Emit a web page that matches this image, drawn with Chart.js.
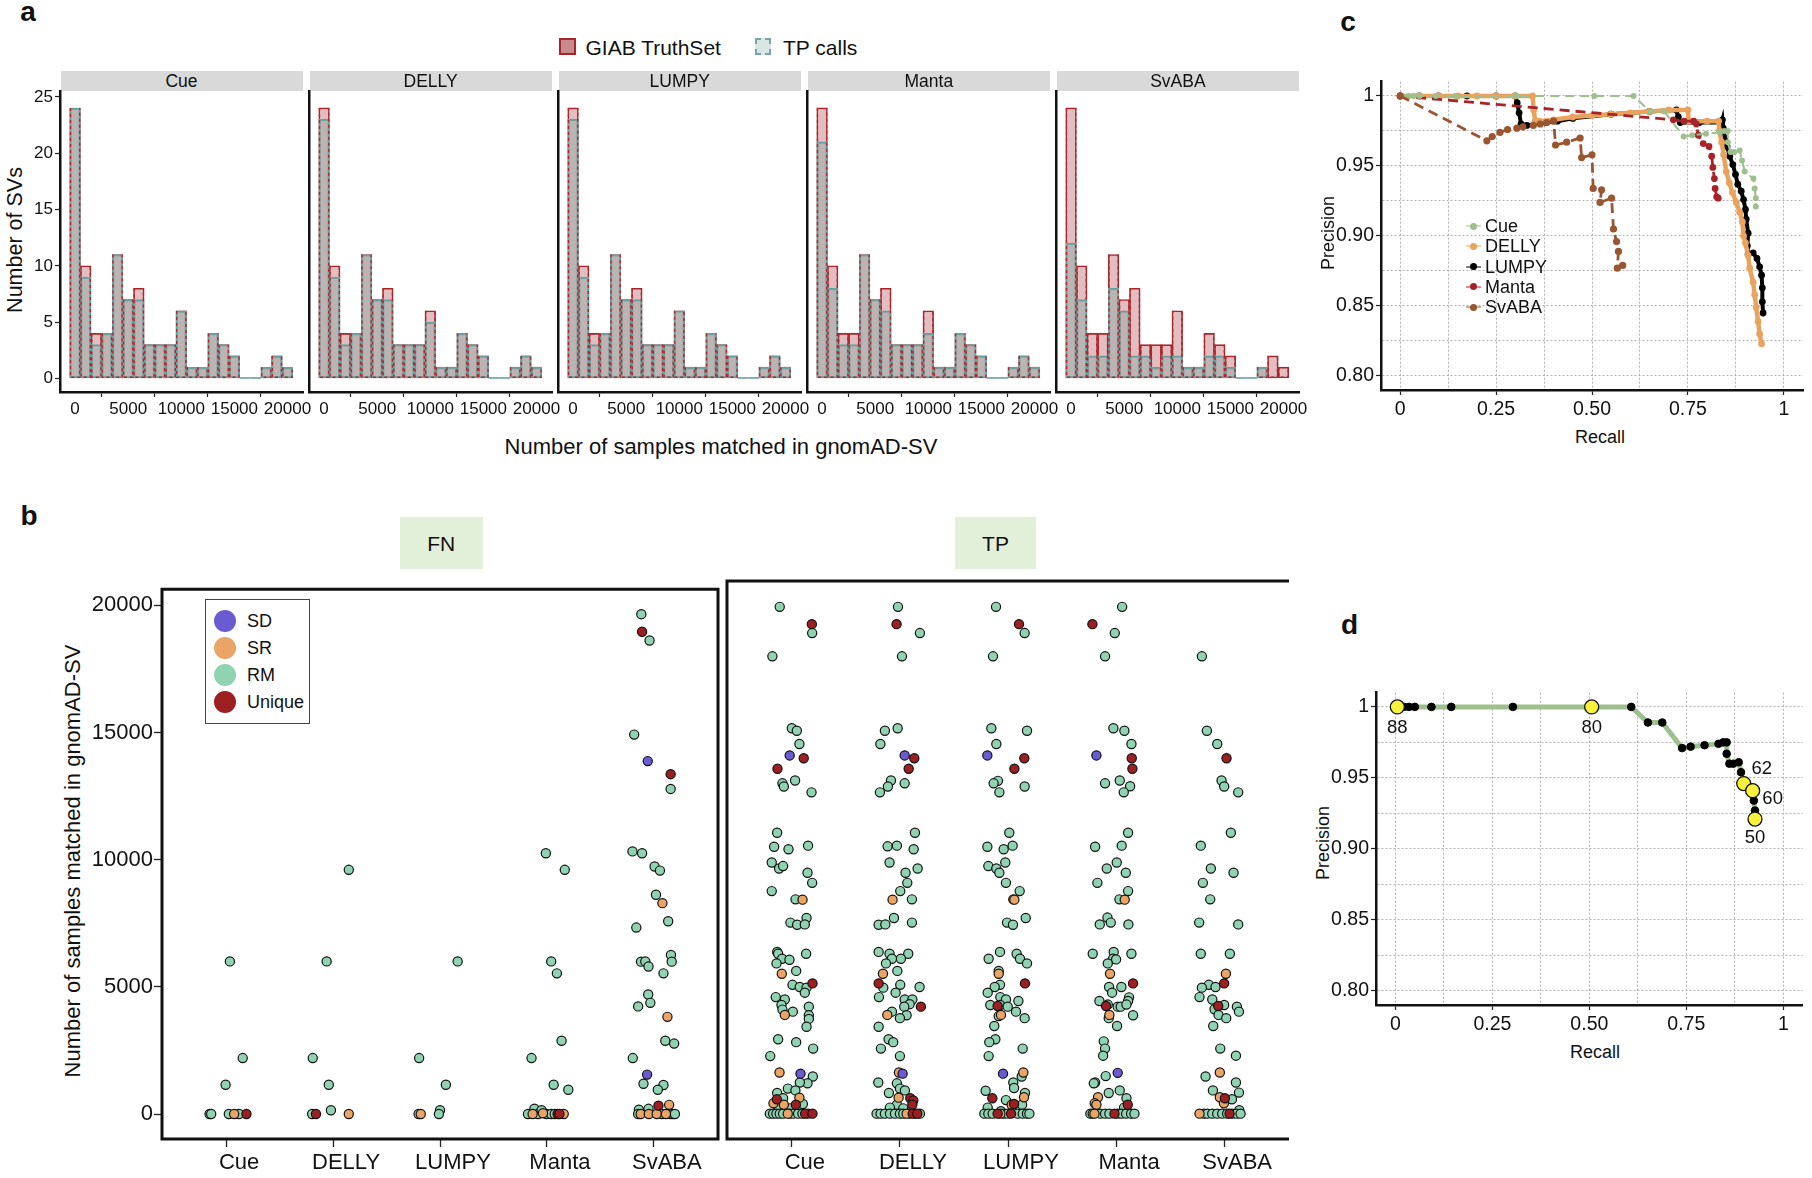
<!DOCTYPE html>
<html><head><meta charset="utf-8">
<script src="https://cdn.jsdelivr.net/npm/chart.js@4.4.1/dist/chart.umd.min.js"></script>
<style>
html,body{margin:0;padding:0;background:#fff}
body{position:relative;width:1812px;height:1178px;overflow:hidden;font-family:'Liberation Sans',Arial,Helvetica,sans-serif;color:#111}
canvas{position:absolute}
.t{position:absolute;white-space:nowrap;line-height:1;transform:translate(-50%,-50%)}
.box{position:absolute;box-sizing:border-box}
</style></head><body>
<script>
// ================= DATA =================
// Panel a: histograms (bin centres, counts)
const facetNames = ['Cue','DELLY','LUMPY','Manta','SvABA'];
const binCenters = [0,1000,2000,3000,4000,5000,6000,7000,8000,9000,10000,11000,12000,13000,14000,15000,16000,17000,18000,19000,20000];
const giabCounts = [24,10,4,4,11,7,8,3,3,3,6,1,1,4,3,2,0,0,1,2,1];
const tpCue   = [24,9,3,4,11,7,7,3,3,3,6,1,1,4,3,2,0,0,1,2,1];
const tpDelly = [23,9,3,4,11,7,7,3,3,3,5,1,1,4,3,2,0,0,1,2,1];
const tpLumpy = [23,9,3,4,11,7,7,3,3,3,6,1,1,4,3,2,0,0,1,2,1];
const tpManta = [21,8,3,3,11,7,6,3,3,3,4,1,1,4,3,2,0,0,1,2,1];
const tpSvaba = [12,7,2,2,8,6,2,2,1,2,2,1,1,2,2,1,0,0,1,0,0];
const histXTicks = [0,5000,10000,15000,20000];
const histYTicks = [0,5,10,15,20,25];

// Panel b: [jitter, samples matched, class]
const toolNames = ['Cue','DELLY','LUMPY','Manta','SvABA'];
const classNames = ['SD','SR','RM','Unique'];
const fnCue = [[0.035,6000,'RM'],[0.155,2200,'RM'],[-0.005,1150,'RM'],[-0.155,0,'RM'],[-0.14,0,'RM'],[0.025,0,'RM'],[0.075,0,'SR'],[0.12,0,'RM'],[0.19,0,'Unique']];
const fnDelly = [[-0.06,6000,'RM'],[0.147,9600,'RM'],[-0.19,2200,'RM'],[-0.04,1150,'RM'],[-0.02,150,'RM'],[-0.196,0,'RM'],[-0.16,0,'Unique'],[0.147,0,'SR']];
const fnLumpy = [[0.165,6000,'RM'],[-0.195,2200,'RM'],[0.055,1150,'RM'],[0.0,150,'RM'],[-0.01,0,'RM'],[-0.2,0,'RM'],[-0.18,0,'SR']];
const fnManta = [[-0.01,10250,'RM'],[0.167,9600,'RM'],[0.04,6000,'RM'],[0.093,5530,'RM'],[0.137,2880,'RM'],[-0.144,2200,'RM'],[0.063,1150,'RM'],[0.2,955,'RM'],[-0.177,0,'RM'],[-0.134,0,'SR'],[-0.117,210,'RM'],[-0.083,0,'RM'],[-0.05,150,'RM'],[-0.037,30,'SR'],[-0.003,0,'RM'],[0.04,0,'RM'],[0.073,0,'RM'],[0.1,0,'Unique'],[0.117,0,'Unique'],[0.157,0,'SR']];
const fnSvaba = [[-0.117,19650,'RM'],[-0.11,18960,'Unique'],[-0.04,18615,'RM'],[-0.184,14915,'RM'],[-0.057,13875,'SD'],[0.157,13360,'Unique'],[0.157,12780,'RM'],[-0.2,10325,'RM'],[-0.11,10250,'RM'],[0.007,9730,'RM'],[0.057,9570,'RM'],[0.02,8620,'RM'],[0.08,8290,'SR'],[0.134,7580,'RM'],[-0.164,7330,'RM'],[0.16,6250,'RM'],[0.167,5990,'RM'],[-0.12,5990,'RM'],[-0.08,6000,'RM'],[-0.05,5800,'RM'],[0.09,5530,'RM'],[-0.053,4700,'RM'],[-0.033,4370,'RM'],[-0.147,4230,'RM'],[0.127,3820,'SR'],[0.107,2880,'RM'],[0.19,2770,'RM'],[-0.197,2200,'RM'],[-0.063,1550,'SD'],[-0.097,1190,'RM'],[0.09,1140,'RM'],[0.037,955,'RM'],[0.043,330,'Unique'],[0.143,360,'SR'],[-0.05,205,'RM'],[-0.14,170,'RM'],[-0.147,0,'RM'],[-0.123,0,'SR'],[-0.047,0,'SR'],[0.027,0,'SR'],[0.077,0,'RM'],[0.113,0,'SR'],[0.153,0,'RM'],[0.177,0,'RM'],[0.197,0,'RM']];
const tpCuePts = [[-0.112,19630,'RM'],[0.185,18960,'Unique'],[0.188,18615,'RM'],[-0.18,17715,'RM'],[0.0,14930,'RM'],[0.046,14830,'RM'],[0.07,14320,'RM'],[-0.02,13875,'SD'],[0.11,13765,'Unique'],[-0.133,13360,'Unique'],[-0.087,12795,'RM'],[-0.074,12670,'RM'],[0.03,12905,'RM'],[0.182,12445,'RM'],[-0.136,10880,'RM'],[-0.164,10340,'RM'],[-0.031,10240,'RM'],[0.15,10380,'RM'],[-0.186,9730,'RM'],[-0.118,9495,'RM'],[-0.081,9590,'RM'],[0.145,9330,'RM'],[0.188,8940,'RM'],[-0.186,8620,'RM'],[0.034,8300,'RM'],[0.099,8290,'SR'],[0.136,7580,'RM'],[-0.013,7400,'RM'],[0.049,7315,'RM'],[0.12,7330,'RM'],[-0.136,6265,'RM'],[-0.127,6195,'RM'],[0.132,6195,'RM'],[-0.09,6000,'RM'],[-0.142,5820,'RM'],[-0.022,5960,'RM'],[-0.093,5420,'SR'],[0.04,5530,'RM'],[0.006,4990,'RM'],[0.073,4905,'RM'],[0.136,4880,'RM'],[0.191,5045,'Unique'],[0.12,4685,'RM'],[-0.149,4515,'RM'],[-0.065,4420,'RM'],[-0.096,4210,'RM'],[0.157,4145,'RM'],[-0.087,4030,'RM'],[0.009,3950,'RM'],[-0.065,3825,'SR'],[0.157,3810,'RM'],[0.157,3670,'RM'],[0.136,3365,'RM'],[-0.127,2880,'RM'],[0.04,2770,'RM'],[0.197,2520,'RM'],[-0.2,2230,'RM'],[-0.114,1595,'SR'],[0.08,1550,'SD'],[0.194,1440,'RM'],[0.145,1175,'RM'],[0.074,1205,'RM'],[-0.037,970,'RM'],[0.033,900,'RM'],[-0.136,800,'RM'],[0.07,620,'SR'],[-0.081,595,'RM'],[-0.139,555,'Unique'],[-0.17,400,'SR'],[-0.074,345,'SR'],[0.037,345,'Unique'],[0.102,375,'RM'],[-0.124,235,'RM'],[-0.02,205,'RM'],[-0.204,0,'RM'],[-0.173,0,'RM'],[-0.143,0,'RM'],[-0.112,0,'RM'],[-0.081,0,'RM'],[-0.038,0,'SR'],[-0.019,0,'RM'],[0.012,0,'RM'],[0.058,0,'RM'],[0.098,0,'RM'],[0.123,0,'Unique'],[0.151,0,'RM'],[0.191,0,'Unique']];
const tpDellyPts = [[-0.018,19630,'RM'],[-0.031,18960,'Unique'],[0.185,18615,'RM'],[0.019,17715,'RM'],[-0.139,14830,'RM'],[-0.021,14930,'RM'],[-0.181,14320,'RM'],[0.044,13875,'SD'],[0.133,13765,'Unique'],[0.081,13360,'Unique'],[-0.083,12905,'RM'],[0.044,12795,'RM'],[-0.111,12670,'RM'],[-0.185,12445,'RM'],[0.139,10880,'RM'],[-0.114,10355,'RM'],[-0.028,10380,'RM'],[0.127,10240,'RM'],[-0.096,9730,'RM'],[0.164,9495,'RM'],[0.052,9330,'RM'],[0.068,8940,'RM'],[0.003,8620,'RM'],[-0.068,8290,'SR'],[0.111,8300,'RM'],[-0.055,7580,'RM'],[0.111,7400,'RM'],[-0.197,7315,'RM'],[-0.135,7330,'RM'],[-0.197,6265,'RM'],[-0.096,6195,'RM'],[0.077,6195,'RM'],[0.009,6000,'RM'],[-0.074,6000,'RM'],[-0.129,5820,'RM'],[-0.157,5420,'SR'],[-0.024,5530,'RM'],[-0.197,5045,'Unique'],[-0.154,4880,'RM'],[0.003,4990,'RM'],[0.182,4905,'RM'],[-0.04,4685,'RM'],[-0.194,4515,'RM'],[0.044,4420,'RM'],[0.115,4420,'RM'],[0.09,4240,'RM'],[0.194,4145,'Unique'],[0.04,4145,'RM'],[-0.074,3950,'RM'],[-0.117,3825,'SR'],[0.062,3810,'RM'],[0.0,3700,'RM'],[-0.197,3365,'RM'],[-0.105,2880,'RM'],[-0.062,2770,'RM'],[-0.176,2520,'RM'],[0.0,2230,'RM'],[-0.009,1595,'SR'],[0.025,1550,'SD'],[-0.2,1205,'RM'],[-0.028,1175,'RM'],[0.0,970,'RM'],[0.046,900,'RM'],[-0.102,800,'RM'],[-0.012,620,'SR'],[0.096,595,'Unique'],[0.124,510,'Unique'],[-0.028,345,'RM'],[0.115,345,'Unique'],[-0.093,235,'RM'],[0.031,205,'RM'],[-0.216,0,'RM'],[-0.179,0,'RM'],[-0.139,0,'RM'],[-0.092,0,'RM'],[-0.046,0,'RM'],[0.0,0,'RM'],[0.031,0,'RM'],[0.062,0,'SR'],[0.087,0,'RM'],[0.118,0,'Unique'],[0.139,0,'RM'],[0.161,0,'Unique'],[0.185,0,'RM']];
const tpLumpyPts = [[-0.111,19630,'RM'],[0.102,18960,'Unique'],[0.154,18615,'RM'],[-0.139,17715,'RM'],[-0.154,14930,'RM'],[0.176,14830,'RM'],[-0.108,14320,'RM'],[-0.191,13875,'SD'],[0.151,13765,'Unique'],[0.059,13360,'Unique'],[-0.093,12890,'RM'],[-0.133,12795,'RM'],[-0.08,12445,'RM'],[0.154,12670,'RM'],[0.012,10880,'RM'],[-0.191,10340,'RM'],[-0.04,10240,'RM'],[0.043,10380,'RM'],[-0.025,9730,'RM'],[-0.182,9590,'RM'],[-0.108,9495,'RM'],[-0.08,9330,'RM'],[-0.019,8940,'RM'],[0.108,8620,'RM'],[0.049,8300,'RM'],[0.059,8290,'SR'],[0.164,7580,'RM'],[-0.009,7400,'RM'],[0.046,7315,'RM'],[-0.074,6265,'RM'],[-0.179,6000,'RM'],[0.08,6195,'RM'],[0.111,6000,'RM'],[0.176,5820,'RM'],[-0.086,5420,'SR'],[-0.086,5530,'RM'],[0.157,5045,'Unique'],[-0.074,4990,'RM'],[-0.123,4905,'RM'],[-0.188,4685,'RM'],[-0.071,4515,'RM'],[-0.019,4420,'RM'],[0.096,4365,'RM'],[-0.164,4210,'RM'],[-0.096,4170,'Unique'],[-0.074,4210,'RM'],[-0.003,4145,'RM'],[0.074,3950,'RM'],[-0.065,3825,'SR'],[-0.086,3780,'RM'],[0.154,3700,'RM'],[-0.127,3395,'RM'],[-0.117,2880,'RM'],[-0.173,2770,'RM'],[0.136,2520,'RM'],[-0.179,2230,'RM'],[-0.046,1550,'SD'],[0.142,1595,'SR'],[0.127,1440,'RM'],[0.049,1205,'RM'],[0.056,995,'RM'],[-0.207,885,'RM'],[0.157,800,'RM'],[0.148,635,'SR'],[-0.145,595,'Unique'],[-0.019,525,'RM'],[0.034,345,'SR'],[0.056,375,'Unique'],[0.13,345,'RM'],[-0.188,235,'RM'],[-0.065,95,'RM'],[-0.219,0,'RM'],[-0.182,0,'RM'],[-0.142,0,'RM'],[-0.096,0,'Unique'],[-0.071,0,'SR'],[-0.04,0,'RM'],[-0.003,0,'RM'],[0.028,0,'Unique'],[0.089,0,'RM'],[0.136,0,'RM'],[0.176,0,'RM'],[0.198,0,'RM']];
const tpMantaPts = [[0.056,19630,'RM'],[-0.219,18960,'Unique'],[-0.012,18615,'RM'],[-0.102,17715,'RM'],[-0.025,14930,'RM'],[0.077,14830,'RM'],[0.142,14320,'RM'],[-0.182,13875,'SD'],[0.145,13765,'Unique'],[0.151,13360,'Unique'],[-0.102,12795,'RM'],[0.034,12905,'RM'],[0.13,12680,'RM'],[0.071,12445,'RM'],[0.111,10880,'RM'],[-0.194,10340,'RM'],[0.052,10380,'RM'],[0.006,9730,'RM'],[-0.086,9495,'RM'],[0.09,9330,'RM'],[-0.173,8940,'RM'],[0.111,8620,'RM'],[0.031,8300,'RM'],[0.08,8290,'SR'],[-0.08,7595,'RM'],[-0.049,7400,'RM'],[-0.151,7330,'RM'],[0.114,7330,'RM'],[-0.216,6195,'RM'],[-0.022,6265,'RM'],[0.142,6195,'RM'],[-0.028,6000,'RM'],[0.0,5975,'RM'],[-0.077,5820,'RM'],[-0.056,5420,'SR'],[0.157,5045,'Unique'],[-0.065,4905,'RM'],[0.049,4905,'RM'],[-0.037,4685,'RM'],[0.12,4505,'RM'],[0.111,4365,'RM'],[-0.154,4365,'RM'],[-0.093,4170,'Unique'],[-0.077,4225,'RM'],[0.015,4145,'RM'],[0.043,4145,'RM'],[0.096,4225,'RM'],[-0.062,3825,'SR'],[-0.068,3700,'RM'],[0.157,3810,'RM'],[0.009,3395,'RM'],[-0.114,2800,'RM'],[-0.102,2520,'RM'],[-0.12,2245,'RM'],[0.015,1580,'SD'],[-0.096,1455,'RM'],[-0.194,1205,'RM'],[-0.206,1175,'RM'],[0.034,900,'RM'],[-0.068,800,'RM'],[-0.167,635,'SR'],[-0.198,400,'SR'],[-0.182,345,'SR'],[0.096,595,'RM'],[0.108,345,'Unique'],[0.074,235,'RM'],[-0.238,0,'RM'],[-0.216,0,'RM'],[-0.2,0,'SR'],[-0.145,0,'RM'],[-0.102,0,'RM'],[-0.062,0,'RM'],[-0.015,0,'Unique'],[0.015,0,'RM'],[0.052,0,'RM'],[0.093,0,'RM'],[0.139,0,'RM'],[0.17,0,'RM']];
const tpSvabaPts = [[-0.206,17715,'RM'],[-0.16,14830,'RM'],[-0.064,14320,'RM'],[0.022,13765,'Unique'],[-0.024,12905,'RM'],[0.0,12670,'RM'],[0.13,12445,'RM'],[0.062,10880,'RM'],[-0.216,10380,'RM'],[-0.123,9495,'RM'],[0.087,9330,'RM'],[-0.197,8940,'RM'],[-0.129,8300,'RM'],[-0.231,7400,'RM'],[0.13,7330,'RM'],[-0.216,6195,'RM'],[0.053,6195,'RM'],[0.016,5420,'SR'],[0.0,5045,'Unique'],[-0.142,4990,'RM'],[-0.206,4880,'RM'],[-0.08,4905,'RM'],[-0.228,4515,'RM'],[-0.11,4420,'RM'],[0.0,4210,'RM'],[-0.055,4170,'Unique'],[-0.089,4045,'RM'],[0.118,4145,'RM'],[0.137,3950,'RM'],[-0.052,3825,'RM'],[0.019,3700,'RM'],[-0.101,3395,'RM'],[-0.036,2520,'RM'],[0.109,2245,'RM'],[-0.04,1595,'SR'],[-0.172,1440,'RM'],[0.109,1205,'RM'],[-0.104,900,'RM'],[0.137,815,'RM'],[-0.04,635,'SR'],[0.007,595,'Unique'],[0.072,555,'RM'],[-0.002,400,'SR'],[0.14,135,'RM'],[-0.228,0,'SR'],[-0.188,0,'RM'],[-0.156,0,'RM'],[-0.11,0,'RM'],[-0.064,0,'RM'],[-0.018,0,'RM'],[0.028,0,'RM'],[0.05,0,'Unique'],[0.075,0,'RM'],[0.115,0,'RM'],[0.152,0,'RM']];
const stripYTicks = [0,5000,10000,15000,20000];

// Panel c / d: precision-recall curves
const cueRecall    = [0.005,0.022,0.035,0.05,0.093,0.144,0.303,0.506,0.608,0.651,0.688,0.739,0.761,0.797,0.833,0.845,0.854,0.854,0.861,0.871,0.885,0.891,0.898,0.921,0.924,0.927,0.927];
const cuePrecision = [1,1,1,1,1,1,1,1,1,0.989,0.989,0.971,0.972,0.973,0.974,0.975,0.975,0.967,0.960,0.960,0.961,0.954,0.946,0.941,0.934,0.927,0.921];
const dellyRecall    = [0,0.05,0.1,0.15,0.2,0.25,0.3,0.345,0.348,0.352,0.362,0.4,0.45,0.5,0.55,0.6,0.65,0.7,0.75,0.752,0.8,0.83,0.832,0.838,0.843,0.85,0.858,0.866,0.876,0.885,0.892,0.895,0.9,0.907,0.911,0.92,0.924,0.928,0.933,0.937,0.942];
const dellyPrecision = [1,1,1,1,1,1,1,1,0.99,0.982,0.982,0.983,0.985,0.986,0.987,0.988,0.989,0.99,0.99,0.982,0.982,0.982,0.975,0.967,0.958,0.946,0.938,0.931,0.924,0.917,0.91,0.9,0.895,0.886,0.877,0.867,0.858,0.849,0.839,0.83,0.823];
const lumpyRecall    = [0,0.05,0.1,0.174,0.25,0.3,0.305,0.31,0.315,0.33,0.38,0.41,0.45,0.55,0.65,0.72,0.725,0.73,0.78,0.838,0.84,0.842,0.846,0.852,0.859,0.867,0.874,0.88,0.889,0.895,0.9,0.902,0.907,0.905,0.907,0.92,0.93,0.937,0.942,0.944,0.944,0.946];
const lumpyPrecision = [1,1,1,1,1,1,0.995,0.988,0.98,0.979,0.981,0.982,0.984,0.987,0.989,0.99,0.985,0.981,0.981,0.981,0.983,0.977,0.97,0.964,0.957,0.951,0.944,0.937,0.932,0.926,0.919,0.912,0.902,0.893,0.887,0.888,0.884,0.878,0.872,0.863,0.853,0.845];
const mantaRecall    = [0,0.712,0.74,0.765,0.772,0.777,0.79,0.805,0.812,0.815,0.819,0.821,0.825,0.829];
const mantaPrecision = [1,0.983,0.982,0.982,0.98,0.972,0.966,0.964,0.957,0.949,0.941,0.934,0.928,0.927];
const svabaRecall    = [0,0.226,0.24,0.26,0.28,0.304,0.32,0.347,0.365,0.382,0.4,0.405,0.434,0.469,0.473,0.5,0.503,0.525,0.521,0.551,0.556,0.564,0.569,0.566,0.58];
const svabaPrecision = [1,0.968,0.971,0.974,0.976,0.977,0.978,0.979,0.98,0.981,0.982,0.965,0.967,0.97,0.956,0.958,0.934,0.933,0.924,0.927,0.905,0.896,0.889,0.877,0.879];
const cueHighlightIdx = [0,7,22,23,26];
const cueHighlightLabel = ['88','80','62','60','50'];
const recallTicks = [0,0.25,0.5,0.75,1];
const recallTickLabels = ['0','0.25','0.50','0.75','1'];
const recallGrid = [0,0.125,0.25,0.375,0.5,0.625,0.75,0.875,1];
const precTicks = [0.8,0.85,0.9,0.95,1];
const precTickLabels = ['0.80','0.85','0.90','0.95','1'];
const precGrid = [0.8,0.825,0.85,0.875,0.9,0.925,0.95,0.975,1];

// ================= STYLE =================
const FONT = "'Liberation Sans', Arial, Helvetica, sans-serif";
Chart.defaults.font.family = FONT;
Chart.defaults.color = '#111';
const classColor = {SD:'#6a5bd2', SR:'#eaa466', RM:'#8fd3b2', Unique:'#9e1f22'};
const classOrder = {Unique:0, SD:1, SR:2, RM:3};
const prColors = {Cue:'#9dc08e', DELLY:'#e9a35d', LUMPY:'#000000', Manta:'#a82328', SvABA:'#9a5630'};

// ================= HELPERS =================
function txt(s, cx, cy, size, o){
  o = o || {};
  const d = document.createElement('div'); d.className = 't'; d.textContent = s;
  d.style.left = cx + 'px'; d.style.top = cy + 'px'; d.style.fontSize = size + 'px';
  if (o.bold) d.style.fontWeight = 'bold';
  if (o.rot) d.style.transform = 'translate(-50%,-50%) rotate(-90deg)';
  if (o.left) d.style.transform = 'translate(0,-50%)';
  document.body.appendChild(d); return d;
}
function box(x, y, w, h, css){
  const d = document.createElement('div'); d.className = 'box';
  d.style.cssText += `left:${x}px;top:${y}px;width:${w}px;height:${h}px;` + (css || '');
  document.body.appendChild(d); return d;
}
function canvasFor(A, P){
  const c = document.createElement('canvas');
  const L = Math.round(A.L - P.l), T = Math.round(A.T - P.t);
  const W = Math.round(A.R - A.L) + P.l + P.r, H = Math.round(A.B - A.T) + P.t + P.b;
  c.width = W; c.height = H;
  c.style.cssText = `position:absolute;left:${L}px;top:${T}px;width:${W}px;height:${H}px`;
  document.body.appendChild(c); return c;
}
const near = (arr, v) => arr.some(a => Math.abs(a - v) < 1e-6);
function baseOpts(P){
  return {responsive:false, animation:false, devicePixelRatio:1,
    layout:{padding:{left:0, right:P.r, top:P.t, bottom:0}},
    plugins:{legend:{display:false}, tooltip:{enabled:false}}};
}

// dashed red edges of GIAB bars over the TP bars
const dashEdges = {id:'dashEdges', afterDatasetsDraw(chart){
  const meta = chart.getDatasetMeta(0), ctx = chart.ctx;
  ctx.save();
  meta.data.forEach(el => {
    const p = el.getProps(['x','y','base','width'], true);
    const l = p.x - p.width/2 + 0.7, r = p.x + p.width/2 - 0.7;
    if (p.base - p.y < 1){
      ctx.setLineDash([]); ctx.strokeStyle = '#6a9fa1'; ctx.lineWidth = 1.6;
      ctx.beginPath(); ctx.moveTo(p.x - p.width/2, p.base - 0.5); ctx.lineTo(p.x + p.width/2, p.base - 0.5); ctx.stroke();
      return;
    }
    ctx.setLineDash([3,3]); ctx.strokeStyle = '#b0282d'; ctx.lineWidth = 1.4;
    ctx.beginPath(); ctx.moveTo(l, p.y); ctx.lineTo(l, p.base - 0.7); ctx.lineTo(r, p.base - 0.7); ctx.lineTo(r, p.y); ctx.stroke();
  });
  ctx.restore();
}};
// panel frame (sides listed in options)
const frame = {id:'frame', afterDraw(chart, args, o){
  const a = chart.chartArea, ctx = chart.ctx;
  ctx.save(); ctx.lineWidth = 3; ctx.strokeStyle = '#111'; ctx.beginPath();
  ctx.moveTo(a.right, a.top); ctx.lineTo(a.left, a.top); ctx.lineTo(a.left, a.bottom); ctx.lineTo(a.right, a.bottom);
  if (o.right) { ctx.lineTo(a.right, a.top); ctx.closePath(); }
  ctx.stroke(); ctx.restore();
}};

// ================= PANEL a =================
txt('a', 28, 12, 28, {bold:true});
box(558.5, 38, 17, 17, 'background:#c98a8e;border:2px solid #a8262b');
txt('GIAB TruthSet', 585.5, 47, 21, {left:true});
box(755, 38, 15.5, 17, 'background:#d8e6e6;border:2px dashed #78a6a8');
txt('TP calls', 783, 47, 21, {left:true});
txt('Number of SVs', 16, 240, 21.5, {rot:true});
txt('Number of samples matched in gnomAD-SV', 721, 447, 22);

const tpByFacet = [tpCue, tpDelly, tpLumpy, tpManta, tpSvaba];
facetNames.forEach((name, i) => {
  const A = {L:60 + 249.1*i, R:303 + 249.1*i, T:91, B:392};
  const P = {l:58, t:12, r:18, b:36};
  box(A.L + 0.5, 71, 242.5, 20, 'background:#d9d9d9');
  txt(name, (A.L + A.R)/2, 81.5, 17.5);
  const barDs = (label, counts, bg, bc, order) => ({
    label, data: binCenters.map((x, k) => ({x, y: counts[k]})),
    backgroundColor: bg, borderColor: bc, borderWidth: 1.6, borderSkipped: false,
    grouped: false, barPercentage: 1, categoryPercentage: 1, order
  });
  const opts = baseOpts(P);
  opts.scales = {
    x:{type:'linear', min:-1420, max:21460, offset:false,
       afterFit:s => { s.height = P.b; },
       afterBuildTicks:s => { s.ticks = histXTicks.map(v => ({value:v})); },
       grid:{drawOnChartArea:false, drawTicks:true, tickLength:5, tickColor:'#222', tickWidth:1.2},
       border:{display:true, color:'#111', width:2.5},
       ticks:{font:{size:17}, color:'#111', padding:2, maxRotation:0, minRotation:0, autoSkip:false, callback:v => String(v)}},
    y:{type:'linear', min:-1.2, max:25.5,
       afterFit:s => { s.width = P.l; },
       afterBuildTicks:s => { s.ticks = histYTicks.map(v => ({value:v})); },
       grid:{drawOnChartArea:false, drawTicks:i === 0, tickLength:5, tickColor:'#222', tickWidth:1.2},
       border:{display:true, color:'#111', width:2.5},
       ticks:{display:i === 0, font:{size:17}, color:'#111', padding:2, autoSkip:false, callback:v => String(v)}}
  };
  new Chart(canvasFor(A, P), {
    type:'bar',
    data:{datasets:[
      barDs('GIAB TruthSet', giabCounts, '#e3bec1', '#a8262b', 1),
      barDs('TP calls', tpByFacet[i], 'rgba(152,168,166,0.52)', '#6a9fa1', 0)
    ]},
    options:opts, plugins:[dashEdges]
  });
});

// ================= PANEL b =================
txt('b', 29, 516, 28, {bold:true});
txt('Number of samples matched in gnomAD-SV', 73, 861, 22, {rot:true});
box(400, 516.5, 82.5, 52.5, 'background:#e2efd9');
txt('FN', 441.3, 543, 21);
box(955, 516.5, 81, 52.5, 'background:#e2efd9');
txt('TP', 995.5, 543, 21);

function stripChart(A, P, sets, showY, rightBorder){
  const datasets = classNames.map(cls => {
    const pts = [];
    sets.forEach((arr, k) => arr.forEach(p => { if (p[2] === cls) pts.push({x:k + 1 + p[0], y:p[1]}); }));
    return {label:cls, data:pts, backgroundColor:classColor[cls], borderColor:'#111', borderWidth:1.2,
            pointRadius:4.6, order:classOrder[cls]};
  });
  const opts = baseOpts(P);
  opts.plugins.frame = {right:rightBorder};
  opts.scales = {
    x:{type:'linear', min:0.4, max:5.6,
       afterFit:s => { s.height = P.b; },
       afterBuildTicks:s => { s.ticks = toolNames.map((n, k) => ({value:k + 1})); },
       grid:{drawOnChartArea:false, drawTicks:true, tickLength:8, tickColor:'#222', tickWidth:1.3},
       border:{display:false},
       ticks:{font:{size:22}, color:'#111', padding:3, labelOffset:13, maxRotation:0, autoSkip:false,
              callback:v => toolNames[Math.round(v) - 1]}},
    y:{type:'linear', min:-982, max:20632,
       afterFit:s => { s.width = P.l; },
       afterBuildTicks:s => { s.ticks = stripYTicks.map(v => ({value:v})); },
       grid:{drawOnChartArea:false, drawTicks:showY, tickLength:8, tickColor:'#222', tickWidth:1.3},
       border:{display:false},
       ticks:{display:showY, font:{size:22}, color:'#111', padding:1, autoSkip:false, callback:v => String(v)}}
  };
  new Chart(canvasFor(A, P), {type:'scatter', data:{datasets}, options:opts, plugins:[frame]});
}
stripChart({L:162, R:718, T:581, B:1139}, {l:76, t:6, r:6, b:46}, [fnCue, fnDelly, fnLumpy, fnManta, fnSvaba], true, true);
stripChart({L:727, R:1289, T:581, B:1139}, {l:8, t:6, r:8, b:46}, [tpCuePts, tpDellyPts, tpLumpyPts, tpMantaPts, tpSvabaPts], false, false);

// legend of panel b
box(205, 598.5, 105, 125.5, 'border:1px solid #444;background:#fff');
classNames.forEach((cls, k) => {
  const yc = 621 + k*27;
  box(214, yc - 11, 22, 22, `background:${classColor[cls]};border-radius:50%`);
  txt(cls, 247, yc, 18, {left:true});
});

// ================= PANEL c / d =================
function prScales(P){
  const tickCol = arr => c => (c.tick && near(arr, c.tick.value)) ? '#222' : 'rgba(0,0,0,0)';
  return {
    x:{type:'linear', min:-0.05, max:1.05,
       afterFit:s => { s.height = P.b; },
       afterBuildTicks:s => { s.ticks = recallGrid.map(v => ({value:v})); },
       grid:{color:'#b3b3b3', lineWidth:1, drawTicks:true, tickLength:5, tickColor:tickCol(recallTicks), tickWidth:1.2},
       border:{display:true, color:'#111', width:2.5, dash:[2,2]},
       ticks:{font:{size:19.5}, color:'#111', padding:3, maxRotation:0, autoSkip:false,
              callback:v => { const k = recallTicks.findIndex(t => Math.abs(t - v) < 1e-6); return k >= 0 ? recallTickLabels[k] : ''; }}},
    y:{type:'linear', min:0.79, max:1.0102,
       afterFit:s => { s.width = P.l; },
       afterBuildTicks:s => { s.ticks = precGrid.map(v => ({value:v})); },
       grid:{color:'#b3b3b3', lineWidth:1, drawTicks:true, tickLength:5, tickColor:tickCol(precTicks), tickWidth:1.2},
       border:{display:true, color:'#111', width:2.5, dash:[2,2]},
       ticks:{font:{size:19.5}, color:'#111', padding:2, autoSkip:false,
              callback:v => { const k = precTicks.findIndex(t => Math.abs(t - v) < 1e-6); return k >= 0 ? precTickLabels[k] : ''; }}}
  };
}
const pts = (xs, ys) => xs.map((x, k) => ({x, y:ys[k]}));

// panel c
txt('c', 1348, 22, 28, {bold:true});
txt('Recall', 1600, 437, 18);
txt('Precision', 1328, 233, 18, {rot:true});
{
  const A = {L:1381, R:1803, T:76.4, B:390.7}, P = {l:56, t:8, r:8, b:36};
  const series = [
    {name:'Cue',   xs:[0].concat(cueRecall), ys:[1].concat(cuePrecision), w:2,   dash:[9,6], r:3,   order:1},
    {name:'DELLY', xs:dellyRecall, ys:dellyPrecision, w:4.5, dash:[],    r:3.4, order:3},
    {name:'LUMPY', xs:lumpyRecall, ys:lumpyPrecision, w:4,   dash:[],    r:3.4, order:4},
    {name:'Manta', xs:mantaRecall, ys:mantaPrecision, w:2.8, dash:[10,6], r:3.4, order:2},
    {name:'SvABA', xs:svabaRecall, ys:svabaPrecision, w:2.8, dash:[10,6], r:3.6, order:0}
  ];
  const opts = baseOpts(P); opts.scales = prScales(P);
  new Chart(canvasFor(A, P), {type:'scatter', data:{datasets:series.map(s => ({
    label:s.name, data:pts(s.xs, s.ys), showLine:true, borderColor:prColors[s.name], backgroundColor:prColors[s.name],
    borderWidth:s.w, borderDash:s.dash, pointRadius:s.r, pointBorderWidth:0, order:s.order, clip:false
  }))}, options:opts});
  series.forEach((s, k) => {
    const yc = 226 + k*20.3;
    box(1466, yc - 1, 15, 2, `background:${prColors[s.name]};opacity:0.5`);
    box(1470, yc - 3.5, 7, 7, `background:${prColors[s.name]};border-radius:50%`);
    txt(s.name, 1485, yc, 18, {left:true});
  });
}

// panel d
txt('d', 1349.5, 625, 28, {bold:true});
txt('Recall', 1595, 1052, 18);
txt('Precision', 1322.7, 843, 18, {rot:true});
{
  const A = {L:1375.6, R:1802.7, T:687, B:1004.5}, P = {l:56, t:8, r:8, b:36};
  const labelOffsets = [[0,21],[0,21],[18,-15],[20,8],[0,19]];
  const cueLabels = {id:'cueLabels', afterDatasetsDraw(chart){
    const ctx = chart.ctx, xs = chart.scales.x, ys = chart.scales.y;
    ctx.save(); ctx.font = `18.5px ${FONT}`; ctx.fillStyle = '#111'; ctx.textAlign = 'center'; ctx.textBaseline = 'middle';
    cueHighlightIdx.forEach((idx, k) => {
      const px = xs.getPixelForValue(cueRecall[idx]), py = ys.getPixelForValue(cuePrecision[idx]);
      ctx.fillText(cueHighlightLabel[k], px + labelOffsets[k][0], py + labelOffsets[k][1]);
    });
    ctx.restore();
  }};
  const opts = baseOpts(P); opts.scales = prScales(P);
  opts.scales.y.max = 1.01;
  new Chart(canvasFor(A, P), {type:'scatter', data:{datasets:[
    {label:'Cue threshold', data:cueHighlightIdx.map(i => ({x:cueRecall[i], y:cuePrecision[i]})),
     backgroundColor:'#f8f23c', borderColor:'#111', borderWidth:1.3, pointRadius:7, order:0},
    {label:'Cue points', data:pts(cueRecall, cuePrecision), backgroundColor:'#000', borderColor:'#000', pointRadius:3.8, order:1},
    {label:'Cue', data:pts(cueRecall, cuePrecision), showLine:true, borderColor:'#9dc08e', borderWidth:5, pointRadius:0, order:2}
  ]}, options:opts, plugins:[cueLabels]});
}
</script>
</body></html>
